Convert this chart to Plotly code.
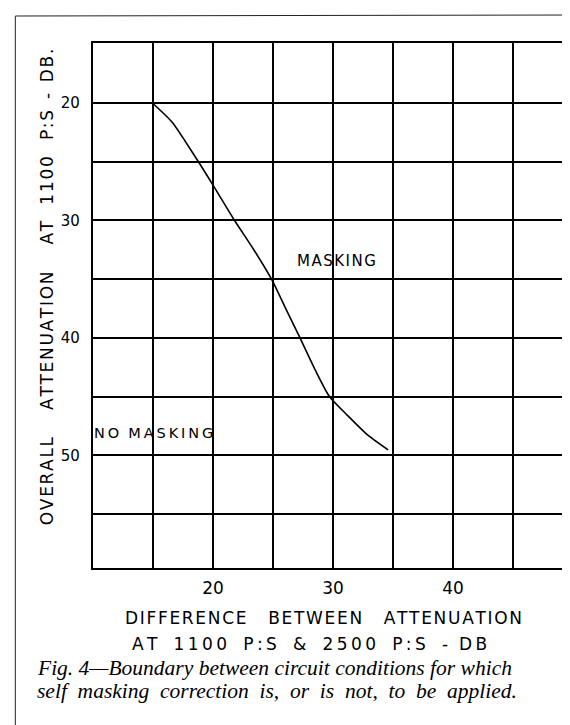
import plotly.graph_objects as go

# Boundary curve
diff_db = [15, 16.6, 18.65, 20.0, 21.76, 23.4, 24.9, 26.1, 27.2, 28.5, 29.7, 31.2, 32.8, 34.6]
atten_db = [20.05, 21.65, 24.8, 27.0, 29.95, 32.5, 35.05, 37.6, 39.9, 42.7, 45.0, 46.6, 48.2, 49.55]

x_tickvals = [15, 20, 25, 30, 35, 40, 45]
x_ticktext = ["", "20", "", "30", "", "40", ""]
y_tickvals = [20, 25, 30, 35, 40, 45, 50, 55]
y_ticktext = ["20", "", "30", "", "40", "", "50", ""]

NB = "\u00a0"
HAIR = "\u200a"
THIN = "\u2009"
hand_font = "DejaVu Sans"

L, R, T, B = 85, 3, 35, 165
W, H = 570, 725
PW, PH = W - L - R, H - T - B


def px_x(p):
    return (p - L) / PW


def px_y(p):
    return (H - B - p) / PH


def sp(word, sep=HAIR):
    return sep.join(list(word))


fig = go.Figure()
fig.add_trace(go.Scatter(
    x=diff_db, y=atten_db, mode="lines",
    line=dict(color="black", width=1.6, shape="spline", smoothing=0.6),
    showlegend=False, hoverinfo="skip",
))

fig.update_layout(
    width=W, height=H,
    margin=dict(l=L, r=R, t=T, b=B),
    paper_bgcolor="white", plot_bgcolor="white",
    xaxis=dict(
        range=[10, 50], tickmode="array", tickvals=x_tickvals, ticktext=x_ticktext,
        showgrid=True, gridcolor="black", gridwidth=1.6,
        showline=True, linecolor="black", linewidth=2.2, mirror=True,
        ticks="", zeroline=False,
        tickfont=dict(family=hand_font, size=17, color="black"),
        ticklabelstandoff=3,
    ),
    yaxis=dict(
        range=[59.6, 14.9], tickmode="array", tickvals=y_tickvals, ticktext=y_ticktext,
        showgrid=True, gridcolor="black", gridwidth=1.6,
        showline=True, linecolor="black", linewidth=2.2, mirror=True,
        ticks="", zeroline=False,
        tickfont=dict(family=hand_font, size=15, color="black"),
        ticklabelstandoff=8,
    ),
)

# In-plot labels
fig.add_annotation(x=30.3, y=33.5, xref="x", yref="y", text=sp("MASKING", HAIR), showarrow=False,
                   font=dict(family=hand_font, size=15, color="black"))
fig.add_annotation(x=15.0, y=48.1, xref="x", yref="y",
                   text=sp("NO", THIN) + NB * 2 + sp("MASKING", THIN), showarrow=False,
                   font=dict(family=hand_font, size=14.5, color="black"))

# Y-axis title
ytitle = (sp("OVERALL") + NB * 5 + sp("ATTENUATION") + NB * 5 + sp("AT") + NB * 3
          + sp("1100") + NB * 3 + sp("P:S") + NB * 2 + "-" + NB * 2 + sp("DB."))
fig.add_annotation(
    x=px_x(27), y=px_y(279), xref="paper", yref="paper", textangle=-90, showarrow=False,
    text=ytitle,
    font=dict(family=hand_font, size=17, color="black"),
)

# X-axis title (two lines)
xtitle1 = sp("DIFFERENCE") + NB * 4 + sp("BETWEEN") + NB * 4 + sp("ATTENUATION")
fig.add_annotation(
    x=px_x(316), y=px_y(622), xref="paper", yref="paper", showarrow=False,
    text=xtitle1,
    font=dict(family=hand_font, size=17, color="black"),
)
xtitle2 = (sp("AT", THIN) + NB * 3 + sp("1100", THIN) + NB * 3 + sp("P:S", THIN) + NB * 3 + "&amp;"
           + NB * 3 + sp("2500", THIN) + NB * 3 + sp("P:S", THIN) + NB * 3 + "-" + NB * 2 + sp("DB", THIN))
fig.add_annotation(
    x=px_x(302), y=px_y(648), xref="paper", yref="paper", showarrow=False,
    text=xtitle2,
    font=dict(family=hand_font, size=17, color="black"),
)

# Caption
cap_font = dict(family="Liberation Serif", size=21.5, color="black")
fig.add_annotation(
    x=px_x(27), y=px_y(674), xref="paper", yref="paper", showarrow=False,
    xanchor="left",
    text="<i>Fig. 4—Boundary between circuit conditions for which</i>",
    font=cap_font,
)
fig.add_annotation(
    x=px_x(27), y=px_y(697), xref="paper", yref="paper", showarrow=False,
    xanchor="left",
    text="<i>" + (NB * 2).join("self masking correction is, or is not, to be applied.".split(" ")) + "</i>",
    font=cap_font,
)

# Outer page frame (scan border)
fig.add_shape(type="line", xref="paper", yref="paper",
              x0=px_x(7), x1=px_x(7), y0=px_y(8), y1=px_y(725),
              line=dict(color="#222222", width=1))
fig.add_shape(type="line", xref="paper", yref="paper",
              x0=px_x(7), x1=px_x(570), y0=px_y(8), y1=px_y(7),
              line=dict(color="#222222", width=1))

fig.write_html("out.html")
